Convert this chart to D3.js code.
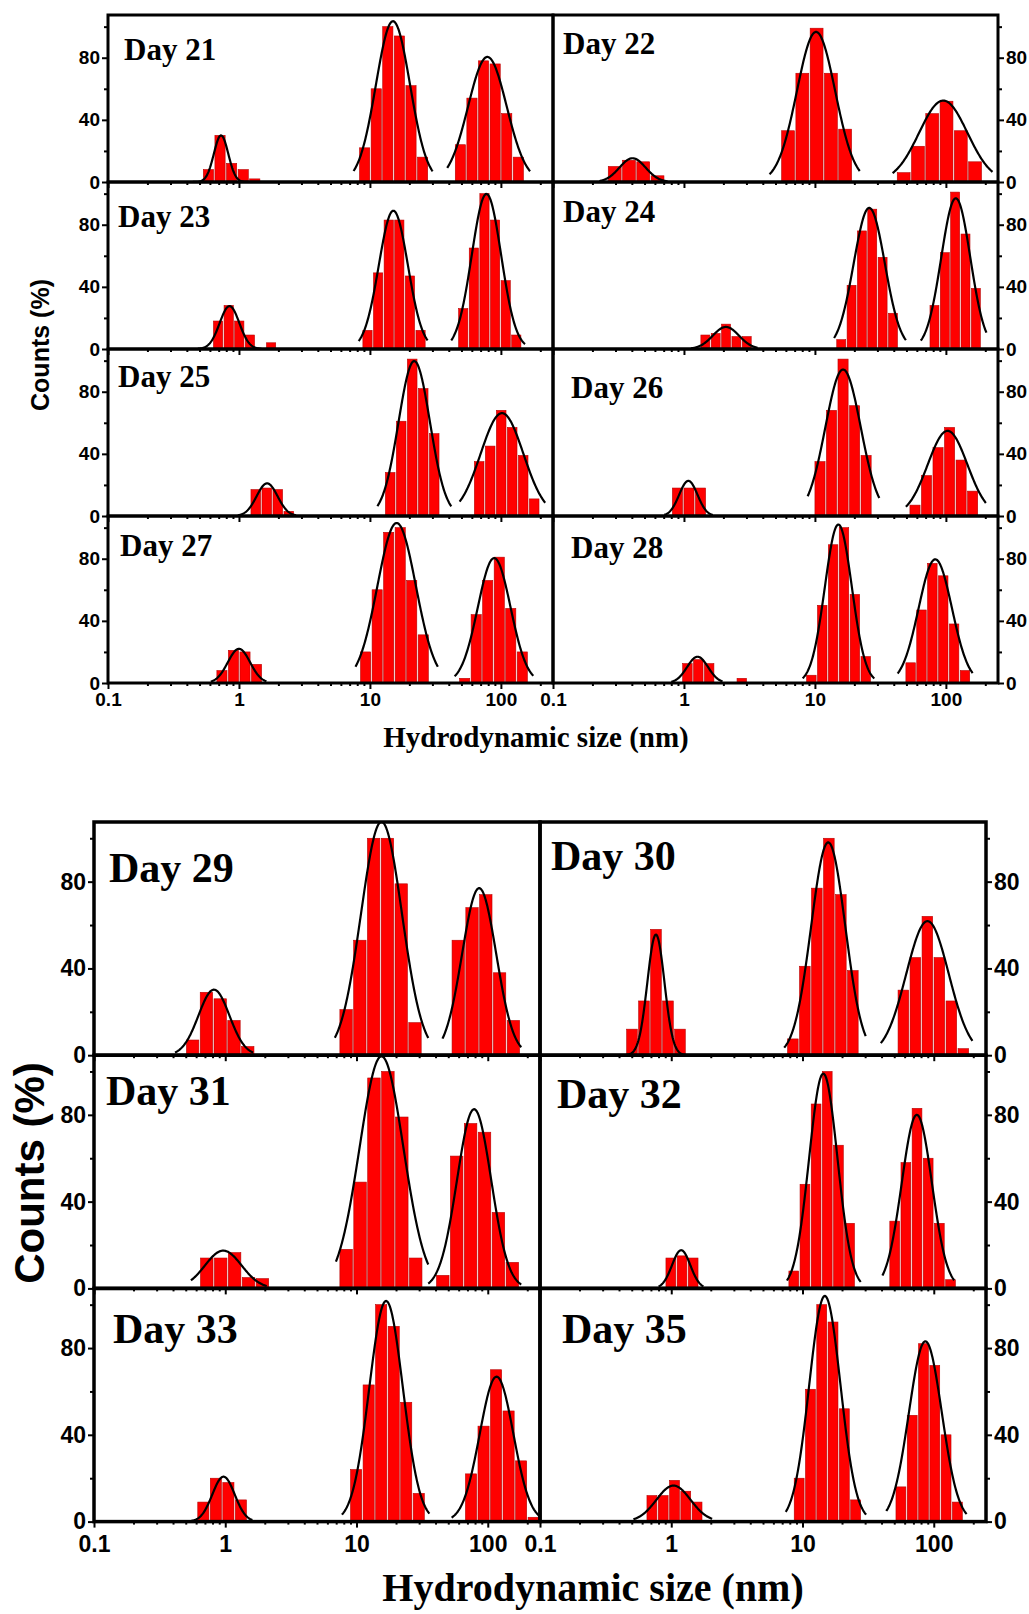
<!DOCTYPE html>
<html>
<head>
<meta charset="utf-8">
<script src="https://cdn.jsdelivr.net/npm/d3@7"></script>
<style>
body { margin: 0; background: #fff; }
svg { display: block; }
.tick text { font-family: 'Liberation Sans', Arial, sans-serif; font-weight: bold; fill: #000; }
.tick line { stroke: #000; stroke-width: 2; }
</style>
</head>
<body>
<script>
// panel names, top figure (days 21-28) then bottom figure (29-35)
var days = ['Day 21', 'Day 22', 'Day 23', 'Day 24', 'Day 25', 'Day 26', 'Day 27',
    'Day 28', 'Day 29', 'Day 30', 'Day 31', 'Day 32', 'Day 33', 'Day 35']

// width of one histogram bin, in decades
var binStep = [0.0885, 0.109, 0.081, 0.079, 0.084, 0.088, 0.088, 0.083,
    0.105, 0.0914, 0.106, 0.085, 0.0954, 0.086]

// left edge (nm) of the first bar of each of the three peaks
var barStart = [
    [0.528, 8.23, 44.3], [0.261, 5.5, 42], [0.631, 8.73, 47], [1.33, 14.5, 74.7],
    [1.22, 12.97, 62], [0.806, 9.88, 52.5], [0.67, 8.38, 47.8], [0.966, 8.54, 48.9],
    [0.5, 7.38, 52.8], [0.452, 7.6, 52.8], [0.64, 7.38, 40.2], [0.9, 7.78, 45.7],
    [0.61, 8.9, 66.8], [0.645, 8.54, 50.9]
]

// counts (%) of the bars of each peak
var barHeights = [
    [[8, 30, 12, 8, 2], [22, 60, 100, 94, 62, 16], [24, 54, 78, 76, 44, 16]],
    [[10, 14, 13, 4], [33, 70, 99, 70, 34], [6, 23, 44, 52, 33, 13]],
    [[18, 28, 18, 9, 0, 4], [12, 49, 83, 83, 47, 12], [26, 65, 100, 83, 44, 9]],
    [[9, 10, 16, 8, 8], [6, 41, 76, 90, 59, 23], [28, 62, 101, 74, 39]],
    [[17, 18, 17, 3], [28, 61, 101, 82, 53], [35, 45, 68, 57, 39, 11]],
    [[18, 18, 18], [35, 68, 101, 71, 39], [7, 26, 44, 57, 36, 16]],
    [[8, 21, 20, 12], [20, 60, 97, 100, 66, 31], [3, 44, 66, 81, 48, 20]],
    [[12.5, 15, 12.5, 0, 0, 3], [5, 50, 89, 100, 57, 17], [13, 47, 77, 69, 38, 8]],
    [[7, 29, 26, 16, 4], [21, 53, 100, 100, 79, 15], [53, 68, 74, 38, 16]],
    [[12, 25, 58, 25, 12], [7.5, 41, 77, 100, 74, 39], [30, 45, 64, 45, 25, 3]],
    [[14, 14, 16.5, 5, 4.5], [18, 49, 97, 100, 79, 14], [6, 61, 76, 72, 35, 12]],
    [[14, 15, 14], [8, 48, 85, 100, 66, 30], [31, 58, 83, 60, 30, 4]],
    [[9, 20, 18, 10], [24, 63, 100, 90, 55, 13], [22, 44, 70, 51, 28, 2]],
    [[12, 12, 19, 14, 9], [20, 61, 100, 92, 52, 10], [16, 49, 82, 72, 40, 9]]
]

// gaussian fits: [amplitude, centre (nm), sigma (decades)]
var fitPeaks = [
    [[30, 0.73, 0.055], [103.5, 15.0, 0.13], [80.5, 78.9, 0.147]],
    [[15.3, 0.405, 0.1], [96.6, 10.2, 0.146], [52.4, 95.5, 0.184]],
    [[27.6, 0.847, 0.075], [89, 15.1, 0.111], [99.8, 77.6, 0.112]],
    [[14.2, 2.09, 0.1], [90.8, 26, 0.119], [97, 119, 0.111]],
    [[21, 1.64, 0.08], [99.7, 21.8, 0.12], [66.2, 102, 0.163]],
    [[22.6, 1.08, 0.07], [94.3, 16.4, 0.135], [54.8, 103, 0.151]],
    [[22, 1.0, 0.085], [103, 16, 0.147], [80.4, 88.9, 0.125]],
    [[16.9, 1.27, 0.08], [102, 15.1, 0.103], [79.6, 83, 0.127]],
    [[30.2, 0.82, 0.118], [107.6, 15.5, 0.156], [77, 86, 0.13]],
    [[55.6, 0.764, 0.065], [98.1, 15.7, 0.13], [61.8, 89.6, 0.162]],
    [[17.4, 0.966, 0.14], [107, 15.5, 0.167], [82.6, 78.7, 0.13]],
    [[17.6, 1.19, 0.07], [99, 14.4, 0.108], [80, 74.3, 0.115]],
    [[20.7, 0.97, 0.085], [101.7, 16.8, 0.128], [66.8, 116.7, 0.128]],
    [[16.6, 1.04, 0.13], [104, 14.8, 0.119], [83.1, 86.3, 0.125]]
]

// size range (nm) over which each fit curve is drawn
var fitRange = [
    [[0.31, 2.06], [7.5, 30.1], [38.9, 167]],
    [[0.226, 0.75], [4.5, 22], [39.2, 227]],
    [[0.484, 1.49], [8.2, 27.6], [41.7, 153]],
    [[1.13, 3.65], [14, 49.5], [64.4, 204]],
    [[0.98, 2.73], [11.4, 41.8], [48.4, 218]],
    [[0.708, 1.66], [8.8, 31], [49.5, 202]],
    [[0.61, 1.62], [7.76, 33], [44.3, 177]],
    [[0.8, 1.97], [8.05, 28.4], [42.8, 160]],
    [[0.414, 1.63], [6.84, 35.2], [45.2, 180]],
    [[0.313, 1.84], [7.25, 30.3], [39.5, 197]],
    [[0.548, 2.07], [6.97, 35.2], [35.2, 180]],
    [[0.8, 1.76], [7.6, 27.8], [40.6, 143]],
    [[0.54, 1.61], [7.74, 35.9], [53, 248]],
    [[0.515, 2.05], [7.45, 30.5], [43.5, 178]]
]

var xTicks = [0.1, 1, 10, 100]
var yTicks = [0, 40, 80]
var yMinor = [20, 60, 100]
var xTitle = 'Hydrodynamic size (nm)'
var yTitle = 'Counts (%)'

// layout (not data): where each "Day" label sits inside its panel
var labelOffset = [[16, 45], [10, 39], [10, 45], [10, 40], [10, 38], [18, 49], [12, 40], [18, 42],
    [15, 60], [11, 48], [12, 50], [17, 53], [19, 55], [22, 55]]

var blocks = [
    { panels: [0, 1, 2, 3, 4, 5, 6, 7], x0: 108, x1: 998, top: 15, rowH: 167, rows: 4,
      tickFont: 19, dayFont: 31, titleFont: 29, yTitleFont: 25, frame: 3,
      xLabelY: 23, xTitleX: 536, xTitleY: 747, yTitleX: 40, yTitleY: 345 },
    { panels: [8, 9, 10, 11, 12, 13], x0: 94, x1: 986, top: 822, rowH: 233.2, rows: 3,
      tickFont: 23, dayFont: 42, titleFont: 40, yTitleFont: 42, frame: 3.5,
      xLabelY: 30, xTitleX: 593, xTitleY: 1601, yTitleX: 29, yTitleY: 1173 }
]

var width = 1029
var height = 1614
var xDomain = [0.1, 250]
var yDomain = [0, 107.5]

var minorX = []
d3.range(-1, 3).forEach(function(e) {
    d3.range(2, 10).forEach(function(m) {
        var v = m * Math.pow(10, e)
        if (v < xDomain[1]) minorX.push(v)
    })
})

var svg = d3.select('body').append('svg')
    .attr('width', width)
    .attr('height', height)

var defs = svg.append('defs')

function gauss(f, v) {
    var z = (Math.log10(v) - Math.log10(f[1])) / f[2]
    return f[0] * Math.exp(-0.5 * z * z)
}

blocks.forEach(function(b) {
    var mid = (b.x0 + b.x1) / 2

    b.panels.forEach(function(p, k) {
        var row = Math.floor(k / 2)
        var col = k % 2
        var left = col ? mid : b.x0
        var right = col ? b.x1 : mid
        var top = b.top + row * b.rowH
        var bottom = top + b.rowH
        var lastRow = row === b.rows - 1

        var x = d3.scaleLog().domain(xDomain).range([left, right])
        var y = d3.scaleLinear().domain(yDomain).range([bottom, top])

        defs.append('clipPath').attr('id', 'clip' + p)
            .append('rect')
            .attr('x', left).attr('y', top)
            .attr('width', right - left).attr('height', b.rowH)

        var g = svg.append('g').attr('clip-path', 'url(#clip' + p + ')')

        // histogram bars
        barHeights[p].forEach(function(peak, j) {
            var bars = peak.map(function(v, i) {
                return {
                    v: v,
                    a: barStart[p][j] * Math.pow(10, i * binStep[p]),
                    b: barStart[p][j] * Math.pow(10, (i + 1) * binStep[p])
                }
            }).filter(function(d) { return d.v > 0 })

            g.selectAll(null)
                .data(bars)
                .enter().append('rect')
                .attr('x', function(d) { return x(d.a) + 0.7 })
                .attr('width', function(d) { return x(d.b) - x(d.a) - 1.4 })
                .attr('y', function(d) { return y(d.v) })
                .attr('height', function(d) { return y(0) - y(d.v) })
                .style('fill', '#ff0000')
                .style('stroke', '#b80000')
                .style('stroke-width', 0.6)
        })

        // gaussian fit lines
        var line = d3.line()
            .x(function(d) { return x(d[0]) })
            .y(function(d) { return y(d[1]) })

        fitPeaks[p].forEach(function(f, j) {
            var lo = fitRange[p][j][0]
            var hi = fitRange[p][j][1]
            var pts = d3.range(0, 161).map(function(i) {
                var v = lo * Math.pow(hi / lo, i / 160)
                return [v, gauss(f, v)]
            })
            g.append('path')
                .datum(pts)
                .attr('d', line)
                .style('fill', 'none')
                .style('stroke', '#000')
                .style('stroke-width', 2.2)
        })

        // frame
        svg.append('rect')
            .attr('x', left).attr('y', top)
            .attr('width', right - left).attr('height', b.rowH)
            .style('fill', 'none')
            .style('stroke', '#000')
            .style('stroke-width', b.frame)

        // y axes: left column on the left, right column on the right
        var yAxis = col ? d3.axisRight(y) : d3.axisLeft(y)
        var yMin = col ? d3.axisRight(y) : d3.axisLeft(y)
        var ya = svg.append('g')
            .attr('transform', 'translate(' + (col ? right : left) + ',0)')
            .call(yAxis.tickValues(yTicks).tickSize(6).tickPadding(2))
        ya.selectAll('text').style('font-size', b.tickFont + 'px')
        ya.select('.domain').remove()
        var ym = svg.append('g')
            .attr('transform', 'translate(' + (col ? right : left) + ',0)')
            .call(yMin.tickValues(yMinor).tickSize(4).tickFormat(''))
        ym.select('.domain').remove()

        // x axis ticks on each panel bottom
        var xa = svg.append('g')
            .attr('transform', 'translate(0,' + bottom + ')')
            .call(d3.axisBottom(x).tickValues(xTicks).tickSize(6)
                .tickFormat(lastRow ? function(d) { return String(d) } : ''))
        xa.select('.domain').remove()
        xa.selectAll('text')
            .attr('y', b.xLabelY)
            .attr('dy', 0)
            .style('font-size', b.tickFont + 'px')
        var xm = svg.append('g')
            .attr('transform', 'translate(0,' + bottom + ')')
            .call(d3.axisBottom(x).tickValues(minorX).tickSize(3).tickFormat(''))
        xm.select('.domain').remove()

        // day label
        svg.append('text')
            .attr('x', left + labelOffset[p][0])
            .attr('y', top + labelOffset[p][1])
            .style('font-family', "'Liberation Serif', 'Times New Roman', serif")
            .style('font-weight', 'bold')
            .style('font-size', b.dayFont + 'px')
            .text(days[p])
    })

    svg.append('text')
        .attr('x', b.xTitleX)
        .attr('y', b.xTitleY)
        .attr('text-anchor', 'middle')
        .style('font-family', "'Liberation Serif', 'Times New Roman', serif")
        .style('font-weight', 'bold')
        .style('font-size', b.titleFont + 'px')
        .text(xTitle)

    svg.append('text')
        .attr('transform', 'translate(' + b.yTitleX + ',' + b.yTitleY + ') rotate(-90)')
        .attr('text-anchor', 'middle')
        .attr('dy', '0.35em')
        .style('font-family', "'Liberation Sans', Arial, sans-serif")
        .style('font-weight', 'bold')
        .style('font-size', b.yTitleFont + 'px')
        .text(yTitle)
})
</script>
</body>
</html>
